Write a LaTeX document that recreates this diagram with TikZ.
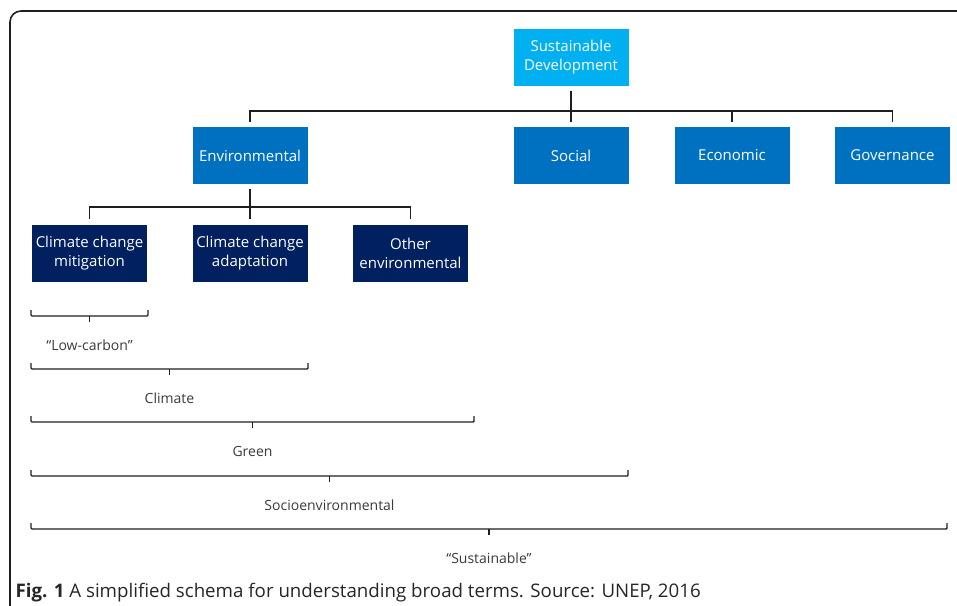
\documentclass[tikz,border=0pt]{standalone}
\usepackage{fontspec}
\setmainfont{Open Sans}
\newfontfamily\capfont{Open Sans}
\usetikzlibrary{positioning}
\definecolor{sdblue}{HTML}{00B0F0}
\definecolor{midblue}{HTML}{0070C0}
\definecolor{navy}{HTML}{002060}
\definecolor{labelgray}{HTML}{3A3A3A}
\definecolor{linegray}{HTML}{1E1E1E}
% bracket under a range: x1, x2, y, label, name
\def\bracket#1#2#3#4#5{%
  \draw[brace] (#1,#3-6) -- (#1,#3) -- (#2,#3) -- (#2,#3-6);
  \draw[brace] ({(#1+#2)/2},#3) -- ++(0,6);
  \node[term] (#5) at ({(#1+#2)/2},#3+29) {#4};}

\begin{document}
\begin{tikzpicture}[x=1pt, y=-1pt,
              box/.style = {rectangle, minimum width=115pt, minimum height=57pt,
                inner sep=2pt, align=center, text=white,
                font=\fontsize{15}{19}\selectfont},
              top/.style = {box, fill=sdblue},
              pillar/.style = {box, fill=midblue},
              sub/.style = {box, fill=navy},
              link/.style = {draw=linegray, line width=1.6pt,
                shorten <=5pt, shorten >=5pt},
              brace/.style = {draw=linegray, line width=1.4pt, rounded corners=1pt},
              term/.style = {text=labelgray, font=\fontsize{14}{16}\selectfont}]
  \useasboundingbox (0,0) rectangle (957,605);
  \draw[linegray, line width=1.6pt, rounded corners=11pt] (10,620) -- (10,11) -- (970,11);

  \node[top] (sd) at (571,57.5) {Sustainable\\Development};

  \node[pillar] (env) at (250,155.5) {Environmental};
  \node[pillar] (soc) at (571,155.5) {Social};
  \node[pillar] (eco) at (732,155.5) {Economic};
  \node[pillar] (gov) at (892.5,155.5) {Governance};

  \node[sub] (mit) at (89.5,253) {Climate change\\mitigation};
  \node[sub] (ada) at (250,253) {Climate change\\adaptation};
  \node[sub] (oth) at (410.5,253) {Other\\environmental};

  \draw[link] (sd.south) -- ++(0,25) -| (env.north);
  \draw[link] (sd.south) -- (soc.north);
  \draw[link] (sd.south) -- ++(0,25) -| (eco.north);
  \draw[link] (sd.south) -- ++(0,25) -| (gov.north);

  \draw[link] (env.south) -- ++(0,23) -| (mit.north);
  \draw[link] (env.south) -- (ada.north);
  \draw[link] (env.south) -- ++(0,23) -| (oth.north);

  \bracket{31}{148}{316}{“Low-carbon”}{lowc}
  \bracket{31}{308}{369}{Climate}{clim}
  \bracket{31}{474}{422}{Green}{green}
  \bracket{31}{628}{476}{Socioenvironmental}{socenv}
  \bracket{31}{947}{529}{“Sustainable”}{sust}

  \node[anchor=base west, text=black!85, font=\capfont\fontsize{18.7}{22}\selectfont]
    (cap) at (12,597) {\textbf{Fig. 1} A simplified schema for understanding broad terms. Source: UNEP, 2016};
\end{tikzpicture}
\end{document}
